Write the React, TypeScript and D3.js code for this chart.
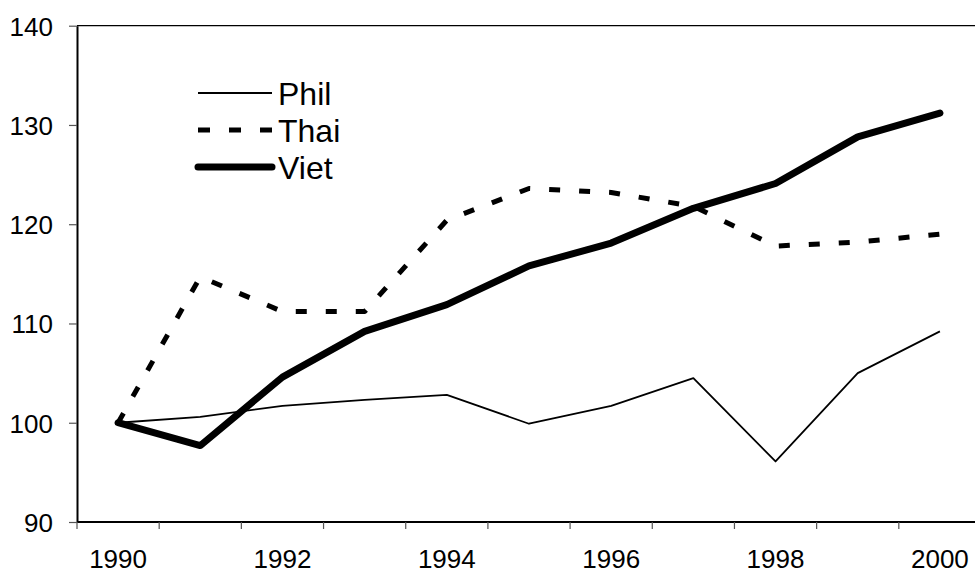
import { useEffect, useRef } from 'react';
import * as d3 from 'd3';

const years = ['1990', '1991', '1992', '1993', '1994', '1995', '1996', '1997', '1998', '1999', '2000'];
const phil = [100, 100.6, 101.7, 102.3, 102.8, 99.9, 101.7, 104.5, 96.1, 105.0, 109.2];
const thai = [100, 114.7, 111.2, 111.2, 120.4, 123.6, 123.2, 121.8, 117.8, 118.2, 119.0];
const viet = [100, 97.7, 104.6, 109.2, 111.9, 115.8, 118.1, 121.6, 124.1, 128.8, 131.2];
const yTicks = [90, 100, 110, 120, 130, 140];

const series = [
  { name: 'Phil', values: phil, width: 1.8, dash: null, legendDash: null, cap: 'butt' },
  { name: 'Thai', values: thai, width: 5, dash: '11,19', legendDash: '12,19', cap: 'butt' },
  { name: 'Viet', values: viet, width: 7, dash: null, legendDash: null, cap: 'round' },
];

export default function App() {
  const svgRef = useRef<SVGSVGElement>(null);

  useEffect(() => {
    if (!svgRef.current) return;
    const W = 975;
    const H = 574;
    const margin = { top: 25.7, left: 77, bottom: 52 };
    const plotW = 904;
    const plotH = H - margin.top - margin.bottom;
    const font = '"Liberation Sans", Arial, sans-serif';

    const svg = d3.select(svgRef.current);
    svg.selectAll('*').remove();
    svg.attr('width', W).attr('height', H);

    const g = svg.append('g').attr('transform', `translate(${margin.left},${margin.top})`);

    const x = d3.scaleBand().domain(years).range([0, plotW]).padding(0);
    const y = d3.scaleLinear().domain([90, 140]).range([plotH, 0]);
    const cx = (d: string) => x(d)! + x.bandwidth() / 2;

    // top border at 140
    g.append('line')
      .attr('x1', 0).attr('x2', plotW)
      .attr('y1', y(140)).attr('y2', y(140))
      .attr('stroke', '#000').attr('stroke-width', 1.3);

    // Y axis
    const yAxis = g.append('g')
      .call(d3.axisLeft(y).tickValues(yTicks).tickSize(8).tickSizeOuter(0).tickPadding(16));
    yAxis.select('.domain').attr('stroke', '#000').attr('stroke-width', 2);
    yAxis.selectAll('.tick line').attr('stroke', '#555').attr('stroke-width', 1.2);
    yAxis.selectAll('text')
      .attr('font-family', font)
      .attr('font-size', '26px')
      .attr('fill', '#000')
      .attr('dy', '0.36em');

    // X axis
    g.append('line')
      .attr('x1', 0).attr('x2', plotW)
      .attr('y1', plotH).attr('y2', plotH)
      .attr('stroke', '#000').attr('stroke-width', 2);

    g.selectAll('.xtick')
      .data(years)
      .join('line')
      .attr('class', 'xtick')
      .attr('x1', (d) => x(d)!).attr('x2', (d) => x(d)!)
      .attr('y1', plotH).attr('y2', plotH + 7)
      .attr('stroke', '#555').attr('stroke-width', 1.2);

    g.selectAll('.xlabel')
      .data(years.filter((d, i) => i % 2 === 0))
      .join('text')
      .attr('class', 'xlabel')
      .attr('x', (d) => cx(d))
      .attr('y', plotH + 46)
      .attr('text-anchor', 'middle')
      .attr('font-family', font)
      .attr('font-size', '26px')
      .attr('fill', '#000')
      .text((d) => d);

    // Lines
    const line = d3.line<number>()
      .x((d, i) => cx(years[i]))
      .y((d) => y(d));

    series.forEach((s) => {
      g.append('path')
        .datum(s.values)
        .attr('fill', 'none')
        .attr('stroke', '#000')
        .attr('stroke-width', s.width)
        .attr('stroke-dasharray', s.dash)
        .attr('stroke-linecap', s.cap)
        .attr('stroke-linejoin', 'round')
        .attr('d', line);
    });

    // Legend
    const legend = svg.append('g').attr('transform', 'translate(198,93)');
    series.forEach((s, i) => {
      const ly = i * 37;
      legend.append('line')
        .attr('x1', 0).attr('x2', 74)
        .attr('y1', ly).attr('y2', ly)
        .attr('stroke', '#000')
        .attr('stroke-width', s.width)
        .attr('stroke-dasharray', s.legendDash)
        .attr('stroke-linecap', s.cap);
      legend.append('text')
        .attr('x', 80)
        .attr('y', ly)
        .attr('dy', '0.36em')
        .attr('font-family', font)
        .attr('font-size', '32px')
        .attr('fill', '#000')
        .text(s.name);
    });
  }, []);

  return (
    <div style={{ position: 'absolute', left: 0, top: 0 }}>
      <svg ref={svgRef} style={{ display: 'block' }} />
    </div>
  );
}
